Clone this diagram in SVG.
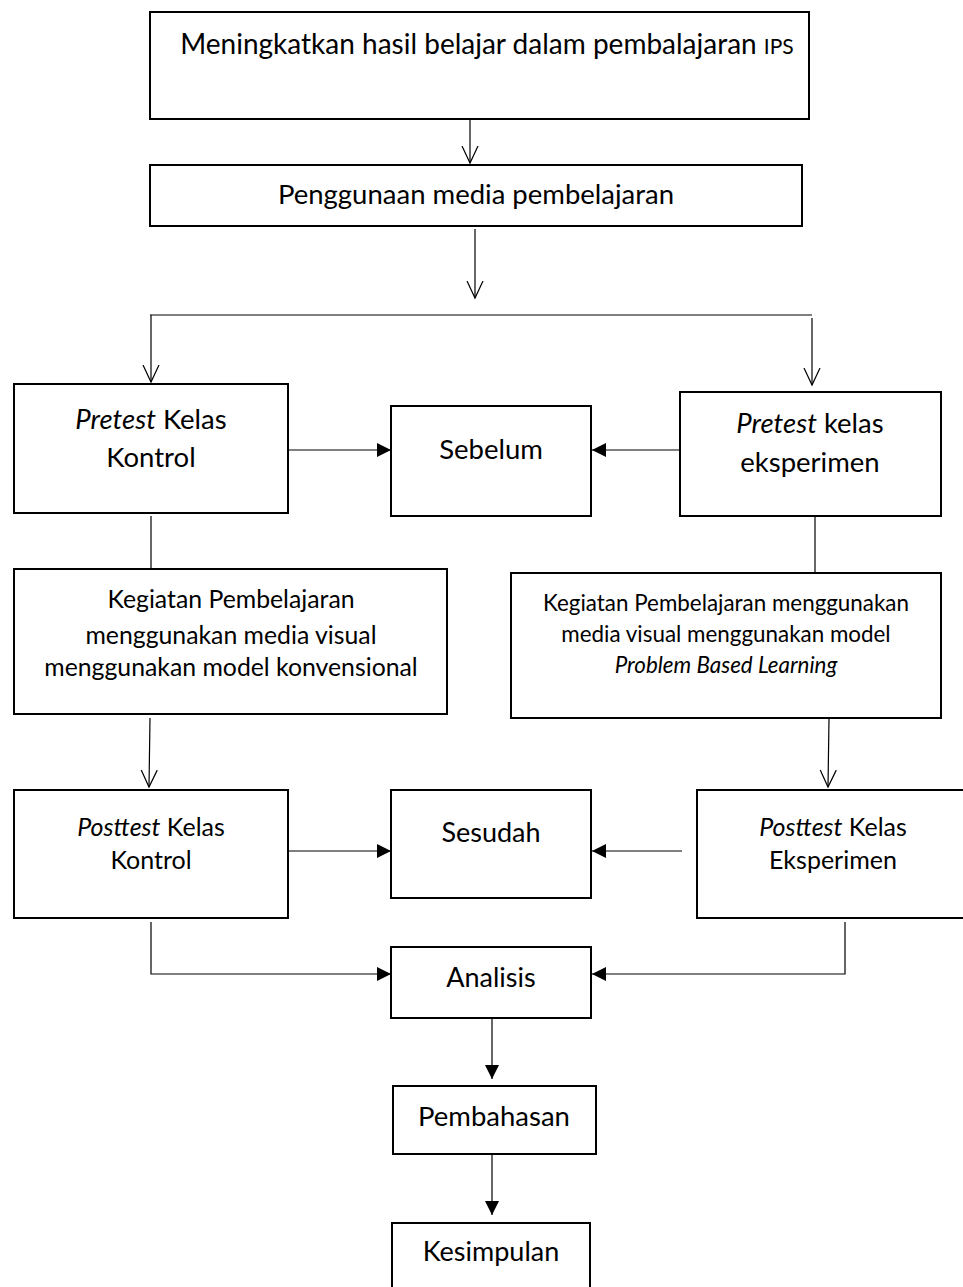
<svg xmlns="http://www.w3.org/2000/svg" width="963" height="1287" viewBox="0 0 963 1287">
<style>
.box{fill:#fff;stroke:#000;stroke-width:2}
.t{font-family:Lato,"Noto Sans",sans-serif;fill:#000;text-anchor:middle}
.c{fill:none;stroke:#000;stroke-width:1.2}
.open{marker-end:url(#op)}
.fill{marker-end:url(#fl)}
</style>
<defs>
<marker id="op" markerWidth="19" markerHeight="18" refX="17.5" refY="9" orient="auto" markerUnits="userSpaceOnUse" viewBox="0 0 19 18">
<path d="M0.5,1 L17.5,9 L0.5,17" fill="none" stroke="#000" stroke-width="1.2"/>
</marker>
<marker id="fl" markerWidth="14" markerHeight="14" refX="14" refY="7" orient="auto" markerUnits="userSpaceOnUse" viewBox="0 0 14 14">
<path d="M0,0 L14,7 L0,14 Z" fill="#000"/>
</marker>
</defs>
<rect width="963" height="1287" fill="#fff"/>
<g id="connectors">
<line class="c open" x1="470" y1="119" x2="470" y2="163"/>
<line class="c open" x1="475" y1="229" x2="475" y2="298"/>
<line class="c" x1="150" y1="315" x2="812" y2="315"/>
<line class="c open" x1="151" y1="315" x2="151" y2="382"/>
<line class="c open" x1="812" y1="318" x2="812" y2="385"/>
<line class="c fill" x1="289" y1="450" x2="391" y2="450"/>
<line class="c fill" x1="680" y1="450" x2="592" y2="450"/>
<line class="c" x1="151" y1="516" x2="151" y2="569"/>
<line class="c" x1="815" y1="517" x2="815" y2="573"/>
<line class="c open" x1="150" y1="718" x2="149" y2="787"/>
<line class="c open" x1="829" y1="719" x2="828" y2="787"/>
<line class="c fill" x1="289" y1="851" x2="391" y2="851"/>
<line class="c fill" x1="682" y1="851" x2="592" y2="851"/>
<polyline class="c fill" points="151,922 151,974 391,974"/>
<polyline class="c fill" points="845,922 845,974 592,974"/>
<line class="c fill" x1="492" y1="1018" x2="492" y2="1079"/>
<line class="c fill" x1="492" y1="1154" x2="492" y2="1215"/>
</g>
<g id="n1">
<rect class="box" x="150" y="12" width="659" height="107"/>
<text class="t" x="487" y="54" font-size="28">Meningkatkan hasil belajar dalam pembalajaran <tspan font-size="21">IPS</tspan></text>
</g>
<g id="n2">
<rect class="box" x="150" y="165" width="652" height="61"/>
<text class="t" x="476" y="204" font-size="27.5">Penggunaan media pembelajaran</text>
</g>
<g id="n3">
<rect class="box" x="14" y="384" width="274" height="129"/>
<text class="t" x="151" y="429" font-size="27.5"><tspan font-style="italic">Pretest</tspan> Kelas</text>
<text class="t" x="151" y="467" font-size="27.5">Kontrol</text>
</g>
<g id="n4">
<rect class="box" x="391" y="406" width="200" height="110"/>
<text class="t" x="491" y="459" font-size="27.5">Sebelum</text>
</g>
<g id="n5">
<rect class="box" x="680" y="392" width="261" height="124"/>
<text class="t" x="810" y="433" font-size="27.5"><tspan font-style="italic">Pretest</tspan> kelas</text>
<text class="t" x="810" y="472" font-size="27.5">eksperimen</text>
</g>
<g id="n6">
<rect class="box" x="14" y="569" width="433" height="145"/>
<text class="t" x="231" y="608" font-size="24.8">Kegiatan Pembelajaran</text>
<text class="t" x="231" y="644" font-size="24.8">menggunakan media visual</text>
<text class="t" x="231" y="676" font-size="24.8">menggunakan model konvensional</text>
</g>
<g id="n7">
<rect class="box" x="511" y="573" width="430" height="145"/>
<text class="t" x="726" y="611" font-size="22.4">Kegiatan Pembelajaran menggunakan</text>
<text class="t" x="726" y="642" font-size="22.4">media visual menggunakan model</text>
<text class="t" x="726" y="673" font-size="22.4" font-style="italic">Problem Based Learning</text>
</g>
<g id="n8">
<rect class="box" x="14" y="790" width="274" height="128"/>
<text class="t" x="151" y="836" font-size="25"><tspan font-style="italic">Posttest</tspan> Kelas</text>
<text class="t" x="151" y="869" font-size="25">Kontrol</text>
</g>
<g id="n9">
<rect class="box" x="391" y="790" width="200" height="108"/>
<text class="t" x="491" y="842" font-size="27">Sesudah</text>
</g>
<g id="n10">
<rect class="box" x="697" y="790" width="270" height="128"/>
<text class="t" x="833" y="836" font-size="25"><tspan font-style="italic">Posttest</tspan> Kelas</text>
<text class="t" x="833" y="869" font-size="25">Eksperimen</text>
</g>
<g id="n11">
<rect class="box" x="391" y="947" width="200" height="71"/>
<text class="t" x="491" y="987" font-size="27">Analisis</text>
</g>
<g id="n12">
<rect class="box" x="393" y="1086" width="203" height="68"/>
<text class="t" x="494" y="1126" font-size="27.5">Pembahasan</text>
</g>
<g id="n13">
<rect class="box" x="392" y="1223" width="198" height="80"/>
<text class="t" x="491" y="1261" font-size="27">Kesimpulan</text>
</g>
</svg>
